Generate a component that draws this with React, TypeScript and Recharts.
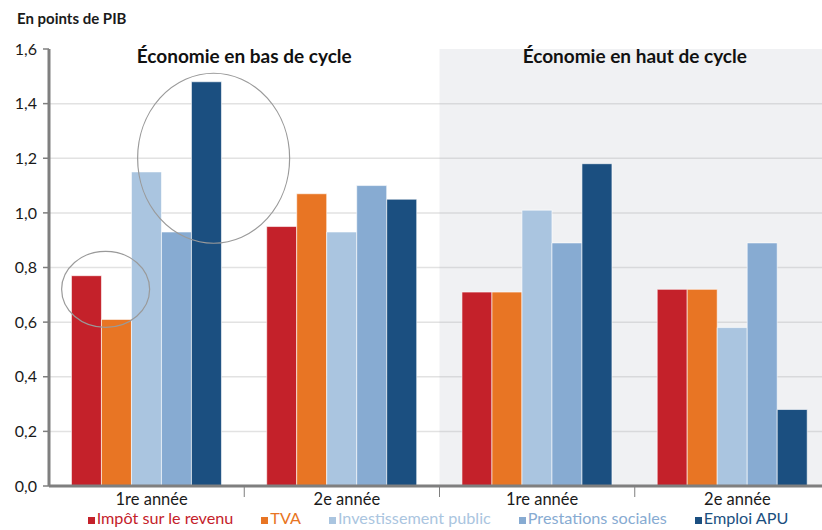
import {
  BarChart,
  Bar,
  XAxis,
  YAxis,
  CartesianGrid,
  Legend,
  ReferenceArea,
  ReferenceDot,
} from 'recharts'

const categories = ['1re année', '2e année', '1re année', '2e année']
const categoryKeys = ['b1', 'b2', 'h1', 'h2']

const impot = [0.77, 0.95, 0.71, 0.72]
const tva = [0.61, 1.07, 0.71, 0.72]
const investissement = [1.15, 0.93, 1.01, 0.58]
const prestations = [0.93, 1.1, 0.89, 0.89]
const emploi = [1.48, 1.05, 1.18, 0.28]

const yTicks = [0, 0.2, 0.4, 0.6, 0.8, 1.0, 1.2, 1.4, 1.6]
const gridValues = [0.2, 0.4, 0.6, 0.8, 1.0, 1.2, 1.4]

const series = [
  { key: 'impot', name: 'Impôt sur le revenu', color: '#C4212A' },
  { key: 'tva', name: 'TVA', color: '#E87524' },
  { key: 'investissement', name: 'Investissement public', color: '#AAC5E0' },
  { key: 'prestations', name: 'Prestations sociales', color: '#87ABD2' },
  { key: 'emploi', name: 'Emploi APU', color: '#1B4F80' },
]

const data = categoryKeys.map((k, i) => ({
  key: k,
  impot: impot[i],
  tva: tva[i],
  investissement: investissement[i],
  prestations: prestations[i],
  emploi: emploi[i],
}))

const WIDTH = 822
const HEIGHT = 530
const MARGIN = { top: 49, right: -8, left: 0, bottom: 0 }
const Y_WIDTH = 49
const X_HEIGHT = 22
const LEGEND_H = 22
const PLOT_BOTTOM = HEIGHT - MARGIN.bottom - LEGEND_H - X_HEIGHT
const BAND = (WIDTH - MARGIN.left - MARGIN.right - Y_WIDTH) / categories.length

const FONT = 'Lato, "Open Sans", sans-serif'
const AXIS_GREY = '#7f7f7f'

const fmt = (v: number) => v.toFixed(1).replace('.', ',')

// category label + small divider tick on the left band edge
function XTick(props: any) {
  const { x, index } = props
  return (
    <g>
      {index > 0 && (
        <line
          x1={x - BAND / 2}
          x2={x - BAND / 2}
          y1={PLOT_BOTTOM}
          y2={PLOT_BOTTOM + 11}
          stroke={AXIS_GREY}
          strokeWidth={1}
        />
      )}
      <text
        x={x + 5}
        y={PLOT_BOTTOM + 19}
        textAnchor="middle"
        fontSize={16.5}
        fontFamily={FONT}
        fill="#1a1a1a"
      >
        {categories[index]}
      </text>
    </g>
  )
}

function LegendContent() {
  return (
    <div
      style={{
        display: 'flex',
        justifyContent: 'center',
        gap: 28,
        paddingLeft: 46,
        fontFamily: FONT,
        fontSize: 16.2,
        lineHeight: '20px',
      }}
    >
      {series.map((s) => (
        <span key={s.key} style={{ color: s.color, display: 'flex', alignItems: 'baseline' }}>
          <span
            style={{
              display: 'inline-block',
              width: 7,
              height: 7,
              background: s.color,
              marginRight: 2,
            }}
          />
          {s.name}
        </span>
      ))}
    </div>
  )
}

const ellipse = (dx: number, rx: number, ry: number) => (p: any) => (
  <ellipse cx={p.cx + dx} cy={p.cy} rx={rx} ry={ry} fill="none" stroke="#9a9a9a" strokeWidth={1.2} />
)

const areaLabel = (value: string) => ({
  value,
  position: 'insideTop' as const,
  offset: 1,
  fontSize: 19,
  fontWeight: 700,
  fill: '#111',
  fontFamily: FONT,
})

export default function App() {
  return (
    <div style={{ position: 'absolute', left: 0, top: 0, width: WIDTH, height: HEIGHT, fontFamily: FONT }}>
      <div
        style={{
          position: 'absolute',
          left: 17,
          top: 9,
          fontSize: 15,
          fontWeight: 700,
          color: '#1a1a1a',
        }}
      >
        En points de PIB
      </div>
      <BarChart
        width={WIDTH}
        height={HEIGHT}
        data={data}
        margin={MARGIN}
        barCategoryGap="11.5%"
        barGap={0}
      >
        <CartesianGrid
          vertical={false}
          horizontalValues={gridValues}
          stroke="#e2e2e2"
          strokeWidth={1.5}
        />
        <ReferenceArea
          x1="h1"
          x2="h2"
          y1={0}
          y2={1.6}
          fill="#B4B9C3"
          fillOpacity={0.2}
          stroke="none"
          label={areaLabel('Économie en haut de cycle')}
        />
        <ReferenceArea
          x1="b1"
          x2="b2"
          y1={0}
          y2={1.6}
          fill="none"
          stroke="none"
          label={areaLabel('Économie en bas de cycle')}
        />
        <XAxis
          dataKey="key"
          height={X_HEIGHT}
          interval={0}
          axisLine={{ stroke: AXIS_GREY, strokeWidth: 3 }}
          tickLine={false}
          tick={<XTick />}
        />
        <YAxis
          width={Y_WIDTH}
          domain={[0, 1.6]}
          ticks={yTicks}
          tickFormatter={fmt}
          axisLine={{ stroke: AXIS_GREY, strokeWidth: 3 }}
          tickLine={{ stroke: AXIS_GREY, strokeWidth: 1.5 }}
          tickSize={6}
          tickMargin={6}
          tick={{ fontSize: 16, fill: '#1a1a1a', fontFamily: FONT }}
        />
        <Legend verticalAlign="bottom" height={LEGEND_H} content={<LegendContent />} />
        {series.map((s) => (
          <Bar
            key={s.key}
            dataKey={s.key}
            name={s.name}
            fill={s.color}
            stroke="#ffffff"
            strokeWidth={0.6}
            isAnimationActive={false}
          />
        ))}
        <ReferenceDot x="b1" y={0.72} r={0} shape={ellipse(-41, 44, 38)} />
        <ReferenceDot x="b1" y={1.2} r={0} shape={ellipse(67, 76, 85)} />
      </BarChart>
    </div>
  )
}
